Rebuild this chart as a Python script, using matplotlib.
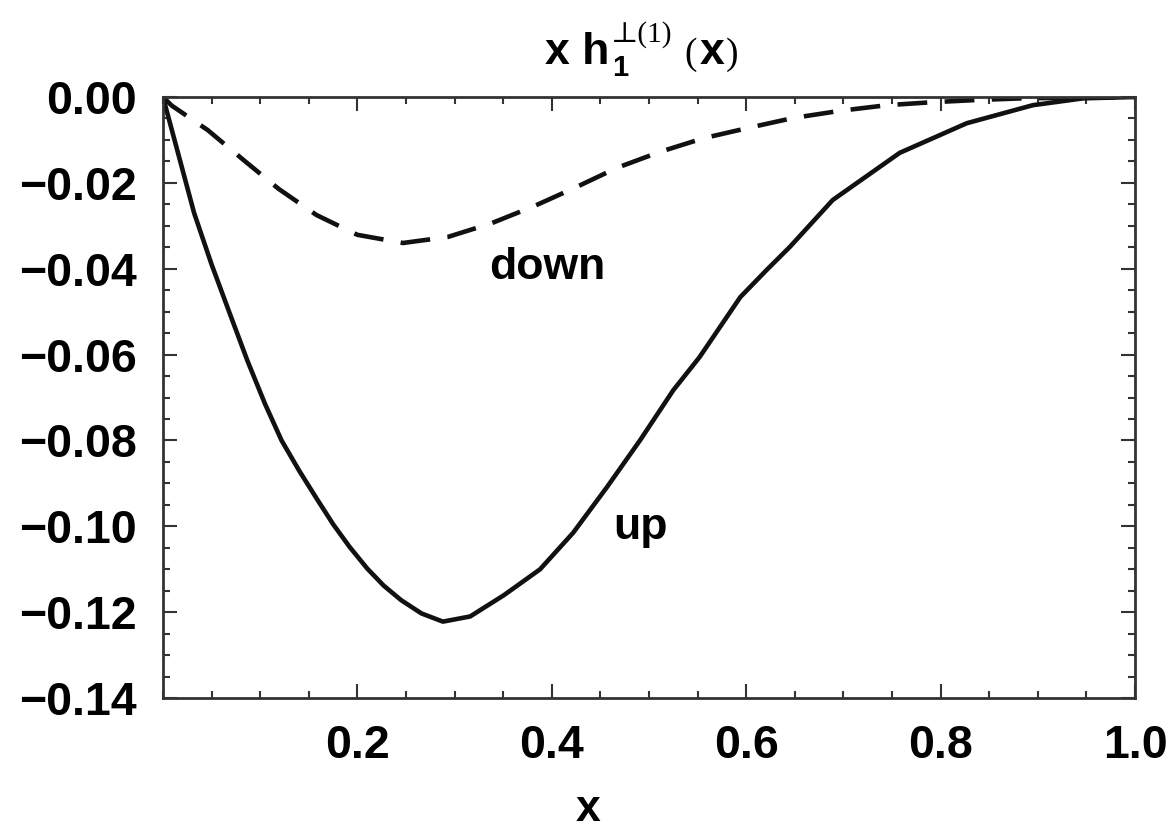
import matplotlib
matplotlib.use("Agg")
import matplotlib.pyplot as plt
from matplotlib.ticker import MultipleLocator, FixedLocator

# values
x_up = [0.0, 0.032, 0.050, 0.068, 0.087, 0.105, 0.122, 0.140, 0.158, 0.175,
        0.192, 0.210, 0.227, 0.245, 0.266, 0.288, 0.316, 0.351, 0.388, 0.422,
        0.457, 0.491, 0.525, 0.552, 0.594, 0.621, 0.645, 0.689, 0.758, 0.827,
        0.895, 0.947, 1.0]
y_up = [0.0, -0.0270, -0.0390, -0.0500, -0.0615, -0.0715, -0.0800, -0.0870,
        -0.0935, -0.0995, -0.1048, -0.1098, -0.1138, -0.1172, -0.1203, -0.1222,
        -0.1210, -0.1160, -0.1100, -0.1015, -0.0908, -0.0799, -0.0683, -0.0606,
        -0.0466, -0.0403, -0.0349, -0.0240, -0.0130, -0.0061, -0.0019, -0.0003, 0.0]

x_down = [0.0, 0.009, 0.046, 0.083, 0.119, 0.158, 0.200, 0.247, 0.293, 0.338,
          0.382, 0.425, 0.467, 0.511, 0.556, 0.604, 0.648, 0.697, 0.745, 0.792,
          0.837, 0.885, 1.0]
y_down = [0.0, -0.0020, -0.0077, -0.0147, -0.0214, -0.0275, -0.0321, -0.0340,
          -0.0326, -0.0294, -0.0254, -0.0210, -0.0165, -0.0128, -0.0096, -0.0071,
          -0.0049, -0.0032, -0.0019, -0.0012, -0.0007, -0.0003, 0.0]

y_ticks = [0.0, -0.02, -0.04, -0.06, -0.08, -0.10, -0.12, -0.14]
y_tick_labels = ["0.00", "\u22120.02", "\u22120.04", "\u22120.06", "\u22120.08",
                 "\u22120.10", "\u22120.12", "\u22120.14"]
x_ticks = [0.2, 0.4, 0.6, 0.8, 1.0]
x_tick_labels = ["0.2", "0.4", "0.6", "0.8", "1.0"]

plt.rcParams["font.family"] = "Liberation Sans"
plt.rcParams["font.weight"] = "bold"

W, H = 1176, 840
fig = plt.figure(figsize=(W / 100, H / 100), dpi=100)
ax = fig.add_axes([0.1386, 0.169, 0.8265, 0.7155])

ax.plot(x_up, y_up, color="#111111", lw=3.3, solid_joinstyle="round")
ax.plot(x_down, y_down, color="#111111", lw=3.3, dashes=(6.5, 3.8))

ax.set_xlim(0, 1.0)
ax.set_ylim(-0.14, 0.0)

ax.xaxis.set_major_locator(FixedLocator(x_ticks))
ax.set_xticklabels(x_tick_labels)
ax.xaxis.set_minor_locator(MultipleLocator(0.05))
ax.yaxis.set_major_locator(FixedLocator(y_ticks))
ax.set_yticklabels(y_tick_labels)
ax.yaxis.set_minor_locator(MultipleLocator(0.005))

ax.tick_params(which="both", direction="in", top=True, right=True,
               color="#333333", labelsize=33.5)
ax.tick_params(which="major", length=10, width=1.5)
ax.tick_params(which="minor", length=5, width=1.5)
ax.tick_params(axis="x", pad=19)
ax.tick_params(axis="y", pad=19)
for s in ax.spines.values():
    s.set_color("#333333")
    s.set_linewidth(2)

ax.text(0.336, -0.0398, "down", fontsize=32, fontweight="bold", va="center")
ax.text(0.463, -0.1002, "up", fontsize=32, fontweight="bold", va="center")

fig.text(0.5, 0.036, "x", fontsize=32, fontweight="bold", ha="center", va="center")

# title  x h_1^{perp(1)} (x), put together piece by piece (pixel positions)
renderer = fig.canvas.get_renderer()
serif = ["Liberation Serif", "DejaVu Serif"]


def piece(x_px, y_px, s, **kw):
    t = fig.text(x_px / W, 1 - y_px / H, s, ha="left", va="baseline", **kw)
    return t.get_window_extent(renderer).x1


end = piece(545, 64, "x h", fontsize=32, fontweight="bold")
piece(end + 3, 76, "1", fontsize=21, fontweight="bold")
end = piece(end + 2, 42, "\u22a5(1)", fontsize=21, family=serif, fontweight="normal")
end = piece(end + 12, 64, "(", fontsize=27, family=serif, fontweight="normal")
end = piece(end + 2, 64, "x", fontsize=32, fontweight="bold")
piece(end + 2, 64, ")", fontsize=27, family=serif, fontweight="normal")

fig.savefig("out.png", dpi=100)
